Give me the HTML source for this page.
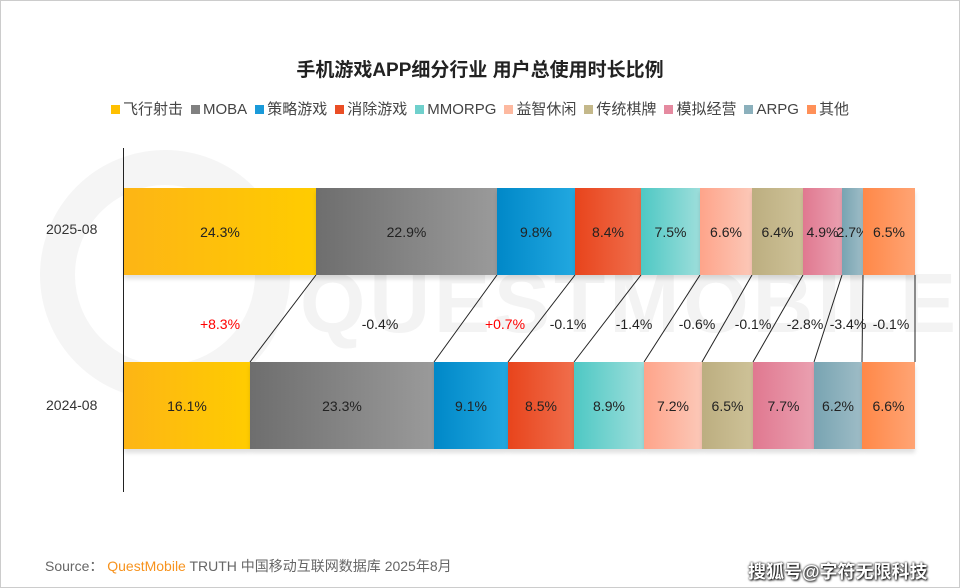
<!DOCTYPE html><html><head><meta charset="utf-8"><style>
body{margin:0;width:960px;height:588px;background:#fff;font-family:"Liberation Sans","Noto Sans CJK SC",sans-serif;overflow:hidden;position:relative}
.f{position:absolute;box-sizing:border-box;border:1px solid #ccc;left:0;top:0;width:960px;height:588px}
.t{position:absolute;top:55px;left:0;width:960px;text-align:center;font-size:19px;font-weight:bold;color:#222}
.lg{position:absolute;top:98px;left:0;width:960px;text-align:center;font-size:15px;color:#444;white-space:nowrap}
.lg span{margin:0 4px}.lg i{display:inline-block;width:9px;height:9px;margin-right:3px;vertical-align:0}
.s{position:absolute;height:87px;display:flex;align-items:center;justify-content:center;font-size:14px;color:#222;box-shadow:0 4px 4px rgba(0,0,0,.12)}
.lb{position:absolute;font-size:14px;color:#333}
.d{position:absolute;top:316px;font-size:14px;color:#222;transform:translateX(-50%)}
.wm{position:absolute;left:0;top:0;width:958px;height:586px;overflow:hidden}
</style></head><body>
<div class="wm">
<div style="position:absolute;left:300px;top:255px;font-size:84px;font-weight:bold;color:#f3f3f3;letter-spacing:4px;white-space:nowrap">QUESTMOBILE</div>
<div style="position:absolute;left:40px;top:150px;width:250px;height:250px;border-radius:50%;border:35px solid #f5f5f5;box-sizing:border-box"></div>
</div>
<div class="f"></div>
<div class="t">手机游戏APP细分行业 用户总使用时长比例</div>
<div class="lg">
<span><i style="background:#ffc000"></i>飞行射击</span><span><i style="background:#808080"></i>MOBA</span><span><i style="background:#1a9ad9"></i>策略游戏</span><span><i style="background:#ea4e25"></i>消除游戏</span><span><i style="background:#6fd0cc"></i>MMORPG</span><span><i style="background:#fdb9a0"></i>益智休闲</span><span><i style="background:#c4b88a"></i>传统棋牌</span><span><i style="background:#e58aa0"></i>模拟经营</span><span><i style="background:#8bb0bc"></i>ARPG</span><span><i style="background:#ff9058"></i>其他</span>
</div>
<div style="position:absolute;left:123px;top:148px;width:1px;height:344px;background:#222"></div>
<div class="lb" style="left:46px;top:221px">2025-08</div>
<div class="lb" style="left:46px;top:397px">2024-08</div>
<svg style="position:absolute;left:0;top:0" width="960" height="588"><g stroke="#222" stroke-width="1" fill="none">
<line x1="316" y1="275" x2="250" y2="362"/><line x1="497" y1="275" x2="434" y2="362"/><line x1="575" y1="275" x2="508" y2="362"/><line x1="641" y1="275" x2="574" y2="362"/><line x1="700" y1="275" x2="644" y2="362"/><line x1="752" y1="275" x2="702" y2="362"/><line x1="803" y1="275" x2="753" y2="362"/><line x1="842" y1="275" x2="814" y2="362"/><line x1="863" y1="275" x2="862" y2="362"/><line x1="915" y1="275" x2="915" y2="362"/></g></svg>
<div id="top"></div>
<script>
var cols=[["#fdb515","#ffcc00"],["#6e6e6e","#9a9a9a"],["#0088c8","#22a8e0"],["#e8441c","#f06e4c"],["#4ec8c4","#9ddedb"],["#fea48a","#fcc8b8"],["#bcae80","#cec298"],["#e07890","#eaa0b0"],["#78a4b2","#9ebcc6"],["#ff8848","#ffa474"]];
var T=[124,316,497,575,641,700,752,803,842,863,915],B=[124,250,434,508,574,644,702,753,814,862,915];
var tv=["24.3%","22.9%","9.8%","8.4%","7.5%","6.6%","6.4%","4.9%","2.7%","6.5%"],bv=["16.1%","23.3%","9.1%","8.5%","8.9%","7.2%","6.5%","7.7%","6.2%","6.6%"];
var dv=["+8.3%","-0.4%","+0.7%","-0.1%","-1.4%","-0.6%","-0.1%","-2.8%","-3.4%","-0.1%"],dx=[220,380,505,568,634,697,753,805,848,891];
var h="";for(var i=0;i<10;i++){var g="linear-gradient(90deg,"+cols[i][0]+","+cols[i][1]+")";
h+='<div class="s" style="left:'+T[i]+'px;width:'+(T[i+1]-T[i])+'px;top:188px;background:'+g+'">'+tv[i]+'</div>';
h+='<div class="s" style="left:'+B[i]+'px;width:'+(B[i+1]-B[i])+'px;top:362px;background:'+g+'">'+bv[i]+'</div>';
h+='<div class="d" style="left:'+dx[i]+'px;color:'+(dv[i][0]=="+"?"#f00":"#222")+'">'+dv[i]+'</div>';}
document.getElementById("top").innerHTML=h;
</script>
<div style="position:absolute;left:45px;top:556px;font-size:14px;color:#666">Source：&nbsp;<span style="color:#f7931e">QuestMobile</span> TRUTH 中国移动互联网数据库 2025年8月</div>
<div style="position:absolute;left:748px;top:558px;font-size:18px;font-weight:bold;color:#fff;text-shadow:0 0 2px #000,1px 1px 2px #000">搜狐号@字符无限科技</div>
</body></html>
